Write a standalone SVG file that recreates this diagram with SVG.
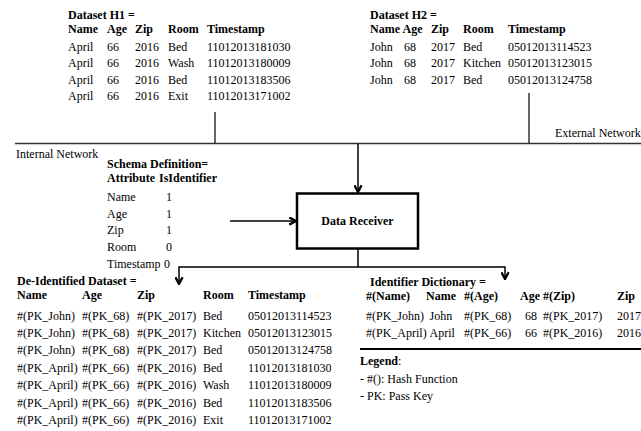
<svg xmlns="http://www.w3.org/2000/svg" width="641" height="431" viewBox="0 0 641 431">
<style>
text{font-family:"Liberation Serif","Times New Roman",serif;font-size:12px;fill:#000}
.b{font-weight:bold}
.net{stroke:#333;stroke-width:1.5;fill:none}
.con{stroke:#000;stroke-width:1.5;fill:none}
</style>
<defs>
<marker id="arr" viewBox="0 0 10 10" refX="9" refY="5" markerWidth="9" markerHeight="9" markerUnits="userSpaceOnUse" orient="auto">
<path d="M1.5,1 L9,5 L1.5,9" fill="none" stroke="#000" stroke-width="2.6"/>
</marker>
</defs>
<rect width="641" height="431" fill="#fff"/>

<g id="connectors">
<path class="net" d="M15,143.5 H641"/>
<path class="net" d="M215,112 V143.5"/>
<path class="net" d="M529,93 V143.5"/>
<path class="con" d="M358,143.5 V192" marker-end="url(#arr)"/>
<path class="con" d="M230,221 H296" marker-end="url(#arr)"/>
<path class="con" d="M358,248 V267"/>
<path class="con" d="M358,267 H179 V284" marker-end="url(#arr)"/>
<path class="con" d="M358,267 H505 V279" marker-end="url(#arr)"/>
<path d="M360,349 H641" stroke="#000" stroke-width="2" fill="none"/>
</g>

<g id="network-labels">
<text x="16" y="158">Internal Network</text>
<text x="555" y="137">External Network</text>
</g>

<g id="dataset-h1">
<text class="b" x="68" y="19">Dataset H1 =</text>
<text class="b" y="33"><tspan x="68">Name</tspan><tspan x="107">Age</tspan><tspan x="135">Zip</tspan><tspan x="168">Room</tspan><tspan x="207">Timestamp</tspan></text>
<text y="50.5"><tspan x="68">April</tspan><tspan x="107">66</tspan><tspan x="135">2016</tspan><tspan x="168">Bed</tspan><tspan x="207">11012013181030</tspan></text>
<text y="67"><tspan x="68">April</tspan><tspan x="107">66</tspan><tspan x="135">2016</tspan><tspan x="168">Wash</tspan><tspan x="207">11012013180009</tspan></text>
<text y="83.5"><tspan x="68">April</tspan><tspan x="107">66</tspan><tspan x="135">2016</tspan><tspan x="168">Bed</tspan><tspan x="207">11012013183506</tspan></text>
<text y="100"><tspan x="68">April</tspan><tspan x="107">66</tspan><tspan x="135">2016</tspan><tspan x="168">Exit</tspan><tspan x="207">11012013171002</tspan></text>
</g>

<g id="dataset-h2">
<text class="b" x="370" y="19">Dataset H2 =</text>
<text class="b" y="33"><tspan x="370">Name</tspan><tspan x="402.5">Age</tspan><tspan x="431">Zip</tspan><tspan x="463">Room</tspan><tspan x="508">Timestamp</tspan></text>
<text y="50.5"><tspan x="370">John</tspan><tspan x="404">68</tspan><tspan x="431">2017</tspan><tspan x="463">Bed</tspan><tspan x="508">05012013114523</tspan></text>
<text y="67"><tspan x="370">John</tspan><tspan x="404">68</tspan><tspan x="431">2017</tspan><tspan x="463">Kitchen</tspan><tspan x="508">05012013123015</tspan></text>
<text y="83.5"><tspan x="370">John</tspan><tspan x="404">68</tspan><tspan x="431">2017</tspan><tspan x="463">Bed</tspan><tspan x="508">05012013124758</tspan></text>
</g>

<g id="schema-definition">
<text class="b" x="107" y="168">Schema Definition=</text>
<text class="b" y="182"><tspan x="107">Attribute</tspan><tspan x="159">IsIdentifier</tspan></text>
<text y="201"><tspan x="107">Name</tspan><tspan x="166">1</tspan></text>
<text y="217.5"><tspan x="107">Age</tspan><tspan x="166">1</tspan></text>
<text y="234"><tspan x="107">Zip</tspan><tspan x="166">1</tspan></text>
<text y="250.5"><tspan x="107">Room</tspan><tspan x="166">0</tspan></text>
<text y="267.5"><tspan x="107">Timestamp</tspan><tspan x="164">0</tspan></text>
</g>

<g id="data-receiver">
<rect x="297" y="193.5" width="121" height="55" fill="#fff" stroke="#000" stroke-width="2.5"/>
<text class="b" x="357.5" y="225" text-anchor="middle">Data Receiver</text>
</g>

<g id="de-identified-dataset">
<text class="b" x="17" y="285">De-Identified Dataset =</text>
<text class="b" y="299"><tspan x="17">Name</tspan><tspan x="82">Age</tspan><tspan x="137">Zip</tspan><tspan x="203">Room</tspan><tspan x="248">Timestamp</tspan></text>
<text y="319.5"><tspan x="17">#(PK_John)</tspan><tspan x="82">#(PK_68)</tspan><tspan x="137">#(PK_2017)</tspan><tspan x="203">Bed</tspan><tspan x="248">05012013114523</tspan></text>
<text y="337"><tspan x="17">#(PK_John)</tspan><tspan x="82">#(PK_68)</tspan><tspan x="137">#(PK_2017)</tspan><tspan x="203">Kitchen</tspan><tspan x="248">05012013123015</tspan></text>
<text y="354.3"><tspan x="17">#(PK_John)</tspan><tspan x="82">#(PK_68)</tspan><tspan x="137">#(PK_2017)</tspan><tspan x="203">Bed</tspan><tspan x="248">05012013124758</tspan></text>
<text y="371.7"><tspan x="17">#(PK_April)</tspan><tspan x="82">#(PK_66)</tspan><tspan x="137">#(PK_2016)</tspan><tspan x="203">Bed</tspan><tspan x="248">11012013181030</tspan></text>
<text y="389"><tspan x="17">#(PK_April)</tspan><tspan x="82">#(PK_66)</tspan><tspan x="137">#(PK_2016)</tspan><tspan x="203">Wash</tspan><tspan x="248">11012013180009</tspan></text>
<text y="406.5"><tspan x="17">#(PK_April)</tspan><tspan x="82">#(PK_66)</tspan><tspan x="137">#(PK_2016)</tspan><tspan x="203">Bed</tspan><tspan x="248">11012013183506</tspan></text>
<text y="424"><tspan x="17">#(PK_April)</tspan><tspan x="82">#(PK_66)</tspan><tspan x="137">#(PK_2016)</tspan><tspan x="203">Exit</tspan><tspan x="248">11012013171002</tspan></text>
</g>

<g id="identifier-dictionary">
<text class="b" x="370" y="286">Identifier Dictionary =</text>
<text class="b" y="300"><tspan x="366">#(Name)</tspan><tspan x="426">Name</tspan><tspan x="464">#(Age)</tspan><tspan x="520">Age</tspan><tspan x="543">#(Zip)</tspan><tspan x="617">Zip</tspan></text>
<text y="319.5"><tspan x="366">#(PK_John)</tspan><tspan x="429.5">John</tspan><tspan x="464">#(PK_68)</tspan><tspan x="525">68</tspan><tspan x="543">#(PK_2017)</tspan><tspan x="617">2017</tspan></text>
<text y="337"><tspan x="366">#(PK_April)</tspan><tspan x="429.5">April</tspan><tspan x="464">#(PK_66)</tspan><tspan x="525">66</tspan><tspan x="543">#(PK_2016)</tspan><tspan x="617">2016</tspan></text>
</g>

<g id="legend">
<text x="360" y="365"><tspan class="b">Legend</tspan>:</text>
<text x="360" y="382.5">- #(): Hash Function</text>
<text x="360" y="400">- PK: Pass Key</text>
</g>
</svg>
